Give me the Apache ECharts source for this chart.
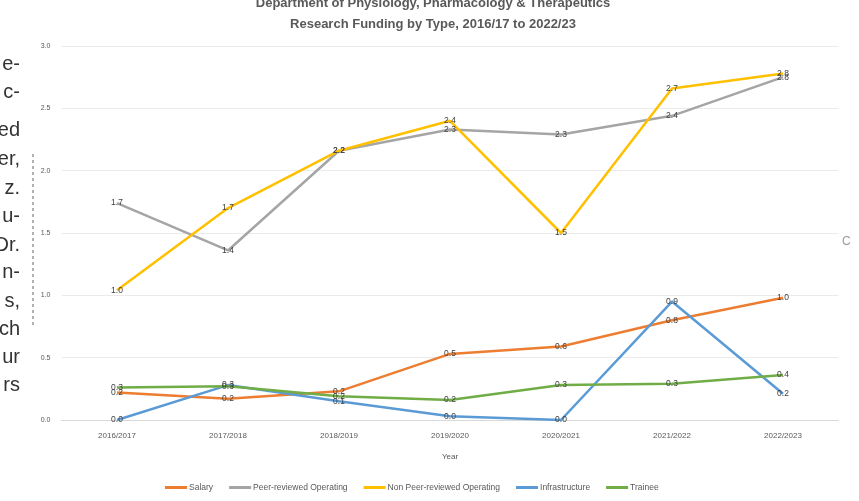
<!DOCTYPE html>
<html><head><meta charset="utf-8">
<script src="https://cdn.jsdelivr.net/npm/echarts@6/dist/echarts.min.js"></script>
<style>html,body{margin:0;padding:0;background:#fff}#c{width:859px;height:501px}</style>
</head><body><div id="c"></div>
<script>
const categories = ['2016/2017','2017/2018','2018/2019','2019/2020','2020/2021','2021/2022','2022/2023'];
const salary = [0.22, 0.17, 0.23, 0.53, 0.59, 0.80, 0.98];
const peerOperating = [1.74, 1.36, 2.16, 2.33, 2.29, 2.44, 2.75];
const nonPeerOperating = [1.04, 1.70, 2.16, 2.40, 1.50, 2.66, 2.78];
const infrastructure = [0.00, 0.28, 0.15, 0.03, 0.00, 0.95, 0.21];
const trainee = [0.26, 0.27, 0.19, 0.16, 0.28, 0.29, 0.36];
const seriesNames = ['Salary','Peer-reviewed Operating','Non Peer-reviewed Operating','Infrastructure','Trainee'];
const seriesData = [salary, peerOperating, nonPeerOperating, infrastructure, trainee];
const colors = ['#ED7D31','#A5A5A5','#FFC000','#5B9BD5','#70AD47'];
const sideText = ['e-','c-','ed','er,','z.','u-','Dr.','n-','s,','ch','ur','rs'];
const sideY = [65,93,131,160,189,217,246,273,302,330,358,386];

const chart = echarts.init(document.getElementById('c'));
const font = 'Liberation Sans, Arial, sans-serif';
const graphics = sideText.map((t,i)=>({
  type:'text', right: 859-20, top: sideY[i]-11,
  style:{text:t, fill:'#333', font:'20px '+font, textAlign:'right'}
}));
graphics.push({type:'text', left:842, top:236, style:{text:'C', fill:'#999', font:'12px '+font}});
graphics.push({type:'line', shape:{x1:33,y1:154,x2:33,y2:325}, style:{stroke:'#666', lineWidth:1, lineDash:[3,3]}});

chart.setOption({
  animation:false,
  color: colors,
  textStyle:{fontFamily:font},
  title:{
    text:'Department of Physiology, Pharmacology & Therapeutics\nResearch Funding by Type, 2016/17 to 2022/23',
    left:428, textAlign:'center', top:-12,
    textStyle:{fontSize:13, fontWeight:'bold', color:'#595959', lineHeight:21, fontFamily:font}
  },
  grid:{left:61.5, right:20.5, top:46, bottom:81},
  legend:{
    left:160, top:478, itemWidth:22, itemHeight:3, itemGap:16,
    icon:'rect',
    itemStyle:{opacity:1},
    textStyle:{fontSize:8.5, color:'#595959', padding:[0,0,0,-3]},
    data: seriesNames
  },
  xAxis:{
    type:'category', data:categories, boundaryGap:true,
    name:'Year', nameLocation:'middle', nameGap:33,
    nameTextStyle:{fontSize:8, color:'#595959'},
    axisTick:{show:false},
    axisLine:{lineStyle:{color:'#D9D9D9'}},
    axisLabel:{fontSize:8, color:'#595959', margin:12}
  },
  yAxis:{
    type:'value', min:0, max:3, interval:0.5,
    axisLabel:{fontSize:7, color:'#595959', margin:11, formatter:v=>v.toFixed(1)},
    splitLine:{lineStyle:{color:'#EBEBEB'}},
    axisLine:{show:false}, axisTick:{show:false}
  },
  series: seriesNames.map((n,i)=>({
    name:n, type:'line', data:seriesData[i],
    symbol:'circle', symbolSize:0.01, showSymbol:true,
    itemStyle:{color:colors[i]},
    lineStyle:{width:2.5, color:colors[i]},
    label:{show:true, position:'inside', fontSize:8.5, color:'#404040', formatter:p=>p.value.toFixed(1)}
  })),
  graphic: graphics
});
</script></body></html>
